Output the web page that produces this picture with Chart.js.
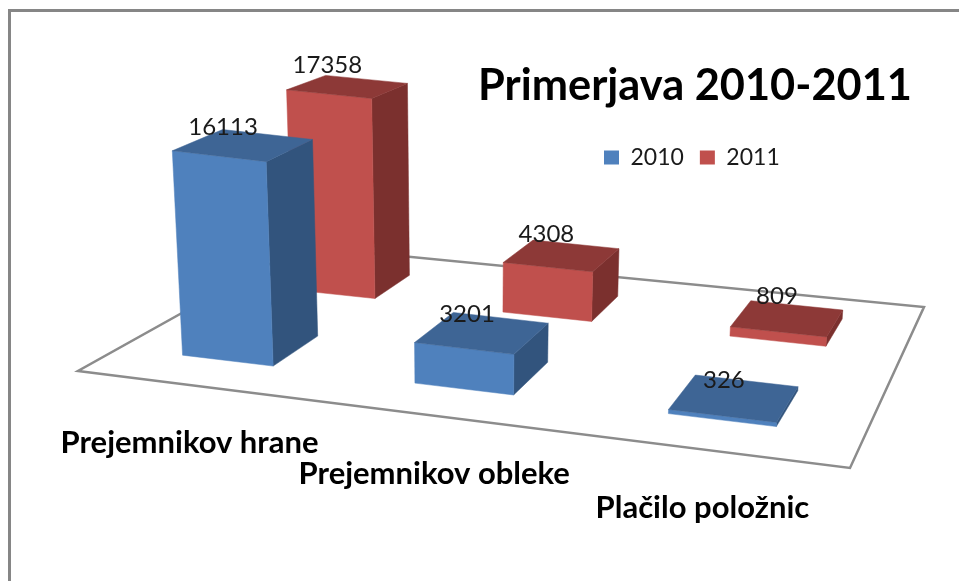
<!DOCTYPE html>
<html>
<head>
<meta charset="utf-8">
<style>html,body{margin:0;padding:0;background:#fff}#wrap{width:959px;height:581px}</style>
<script src="https://cdn.jsdelivr.net/npm/chart.js@4/dist/chart.umd.js"></script>
</head>
<body>
<div id="wrap"><canvas id="c" width="959" height="581"></canvas></div>
<script>
const categories = ["Prejemnikov hrane", "Prejemnikov obleke", "Plačilo položnic"];
const values2010 = [16113, 3201, 326];
const values2011 = [17358, 4308, 809];
const seriesNames = ["2010", "2011"];

const FONT = "Lato, 'Open Sans', sans-serif";
const shades = [
  {front:"#4F81BD", top:"#3E6595", side:"#32547D"},
  {front:"#C0504D", top:"#8D3937", side:"#7B302E"}
];
const view = {
  floor: [[78,371],[850,468],[924,307],[301.6,246.2]],
  rows: [{v0:.155,v1:.36,dy:-18,du:-.005},{v0:.65,v1:.85,dy:-21.5,du:-.003}],
  axisPx: 261, axisPxDepth: 47
};

function homography(q){
  const [[x0,y0],[x1,y1],[x2,y2],[x3,y3]] = q;
  const dx1=x1-x2,dx2=x3-x2,sx=x0-x1+x2-x3,dy1=y1-y2,dy2=y3-y2,sy=y0-y1+y2-y3;
  const den=dx1*dy2-dx2*dy1;
  const g=(sx*dy2-dx2*sy)/den,h=(dx1*sy-sx*dy1)/den;
  const a=x1-x0+g*x1,b=x3-x0+h*x3,d=y1-y0+g*y1,e=y3-y0+h*y3;
  return (u,v)=>{const w=g*u+h*v+1;return [(a*u+b*v+x0)/w,(d*u+e*v+y0)/w];};
}
const floorAt = homography(view.floor);

// ground point plus a height given as a fraction of the y axis
function project(u,v,t){
  const [x,y]=floorAt(u,v);
  const px=t*(view.axisPx-view.axisPxDepth*v);
  const lean=(x-468)*.000176;
  return [x+px*lean,y-px];
}
function poly(ctx,pts,fill){
  ctx.beginPath();
  pts.forEach((p,i)=>i?ctx.lineTo(p[0],p[1]):ctx.moveTo(p[0],p[1]));
  ctx.closePath();ctx.fillStyle=fill;ctx.fill();
  ctx.lineWidth=.5;ctx.strokeStyle=fill;ctx.stroke();
}
function barGeometry(chart,el,idx){
  const A=chart.chartArea,W=A.right-A.left,H=A.bottom-A.top;
  const r=view.rows[idx];
  const u0=(el.x-el.width/2-A.left)/W+r.du;
  const u1=(el.x+el.width/2-A.left)/W+r.du;
  const t=(el.base-el.y)/H;
  return {u0,u1,t,v0:r.v0,v1:r.v1,dy:r.dy};
}

const box3d = {
  id:"box3d",
  afterLayout(chart){
    const place=(b,l,r,t,bt)=>{b.left=l;b.right=r;b.top=t;b.bottom=bt;b.width=r-l;b.height=bt-t;};
    place(chart.titleBlock,478,912,59,113);
    place(chart.legend,588,840,130,190);
    chart.legend.adjustHitBoxes();
  },
  beforeDraw(chart){
    const ctx=chart.ctx;
    ctx.save();
    ctx.strokeStyle="#868686";ctx.lineWidth=3;
    ctx.beginPath();
    ctx.moveTo(9.5,chart.height);ctx.lineTo(9.5,10.5);ctx.lineTo(chart.width,10.5);
    ctx.stroke();
    ctx.lineWidth=2.5;ctx.strokeStyle="#8c8c8c";
    ctx.beginPath();
    view.floor.forEach((p,i)=>i?ctx.lineTo(p[0],p[1]):ctx.moveTo(p[0],p[1]));
    ctx.closePath();ctx.lineJoin="miter";ctx.stroke();
    ctx.restore();
  },
  beforeDatasetDraw(chart,args){
    const ctx=chart.ctx,s=shades[args.index];
    chart.getDatasetMeta(args.index).data.forEach(el=>{
      const g=barGeometry(chart,el,args.index);
      const P=project;
      poly(ctx,[P(g.u1,g.v0,0),P(g.u1,g.v1,0),P(g.u1,g.v1,g.t),P(g.u1,g.v0,g.t)],s.side);
      poly(ctx,[P(g.u0,g.v0,0),P(g.u1,g.v0,0),P(g.u1,g.v0,g.t),P(g.u0,g.v0,g.t)],s.front);
      poly(ctx,[P(g.u0,g.v0,g.t),P(g.u1,g.v0,g.t),P(g.u1,g.v1,g.t),P(g.u0,g.v1,g.t)],s.top);
    });
    return false;
  },
  afterDatasetsDraw(chart){
    const ctx=chart.ctx,A=chart.chartArea,W=A.right-A.left;
    ctx.save();
    ctx.textAlign="center";ctx.textBaseline="middle";
    ctx.fillStyle="#1a1a1a";ctx.font="24px "+FONT;
    chart.data.datasets.forEach((ds,i)=>{
      chart.getDatasetMeta(i).data.forEach((el,j)=>{
        const g=barGeometry(chart,el,i);
        const um=(g.u0+g.u1)/2,vm=(g.v0+g.v1)/2;
        const c=project(um,vm,g.t);
        ctx.fillText(String(ds.data[j]),c[0]-23+15*um,c[1]+g.dy);
      });
    });
    ctx.fillStyle="#000";ctx.font="bold 31px "+FONT;
    const xs=chart.scales.x;
    categories.forEach((name,j)=>{
      const u=(xs.getPixelForValue(j)-A.left)/W-.003;
      const f=floorAt(u,0);
      ctx.fillText(name,f[0]-1,f[1]+58);
    });
    ctx.restore();
  }
};

new Chart(document.getElementById("c"),{
  type:"bar",
  data:{labels:categories,datasets:[
    {label:seriesNames[0],data:values2010,backgroundColor:shades[0].front},
    {label:seriesNames[1],data:values2011,backgroundColor:shades[1].front}
  ]},
  options:{
    responsive:false,animation:false,
    grouped:false,barPercentage:.4,categoryPercentage:1,
    scales:{
      x:{display:false},
      y:{display:false,min:0,max:20000}
    },
    plugins:{
      title:{display:true,text:"Primerjava 2010-2011",color:"#000",align:"center",padding:0,
        font:{family:FONT,size:44.4,weight:"bold"}},
      legend:{display:true,position:"top",align:"start",
        labels:{boxWidth:15,boxHeight:14,padding:16,color:"#1a1a1a",font:{family:FONT,size:23}}},
      tooltip:{enabled:false}
    }
  },
  plugins:[box3d]
});
</script>
</body>
</html>
